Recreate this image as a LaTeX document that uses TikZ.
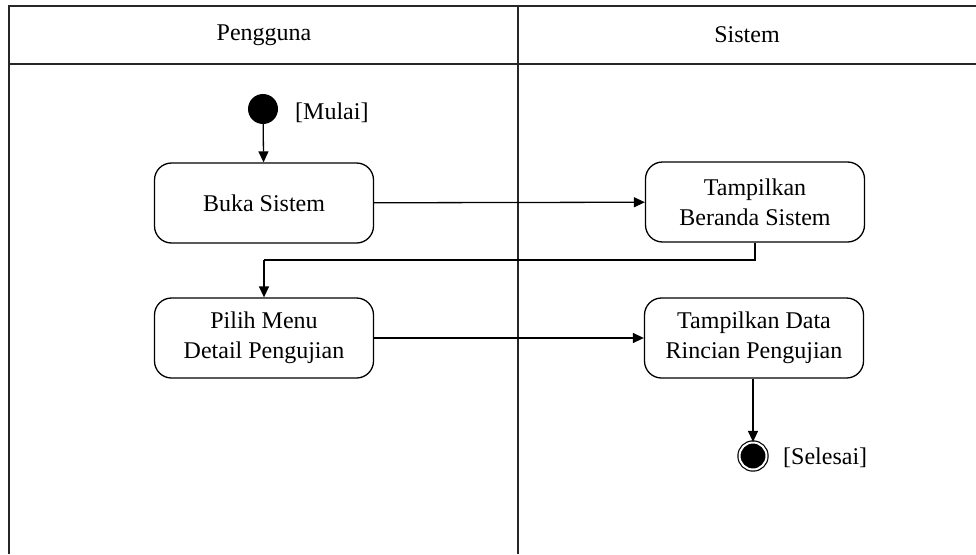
\documentclass[tikz,border=0pt]{standalone}
\usepackage{fontspec}
\setmainfont{LiberationSerif}[Extension=.ttf,UprightFont=*-Regular,BoldFont=*-Bold]
\newfontfamily\timesfont{LiberationSerif}[Extension=.ttf,UprightFont=*-Regular]
\usetikzlibrary{arrows.meta}
\begin{document}
\begin{tikzpicture}[x=1pt,y=-1pt,
  lane/.style={line width=1.6pt,draw=black!85},
  act/.style={draw,line width=1.3pt,rounded corners=17pt,minimum width=219pt,minimum height=80pt,
    align=center,font=\timesfont\fontsize{24}{30}\selectfont,inner sep=0pt},
  flow/.style={line width=1.3pt,-{Triangle[length=11pt,width=10pt]}},
  lbl/.style={font=\timesfont\fontsize{24}{28}\selectfont,inner sep=0pt},
  startnode/.style={circle,fill=black,minimum size=30pt,inner sep=0pt},
  endnode/.style={circle,draw,line width=1.2pt,fill=black,double=white,double distance=2pt,minimum size=27pt,inner sep=0pt}]
\useasboundingbox (0,0) rectangle (976,554);
\fill[white] (0,0) rectangle (976,554);
% swimlane frame
\draw[lane] (9,554) -- (9,6) -- (976,6);
\draw[lane] (9,64) -- (976,64);
\draw[lane] (518,6) -- (518,554);
\node[lbl] (h1) at (264,35) {Pengguna};
\node[lbl] (h2) at (747,35) {Sistem};
% activities
\node[startnode] (start) at (263,109) {};
\node[lbl,anchor=west] (mulai) at (295,113) {[Mulai]};
\node[act] (buka) at (264,203) {Buka Sistem};
\node[act] (beranda) at (755,202) {Tampilkan\\Beranda Sistem};
\node[act] (pilih) at (264,338) {Pilih Menu\\Detail Pengujian};
\node[act] (rincian) at (754,338) {Tampilkan Data\\Rincian Pengujian};
\node[endnode] (end) at (753,456) {};
\node[lbl,anchor=west] (selesai) at (783,458) {[Selesai]};
% control flow
\coordinate (c1) at (755,260);
\coordinate (c2) at (264,260);
\draw[flow] (start) -- (buka);
\draw[flow] (buka) -- (beranda);
\draw[line width=1.3pt] (beranda.south -| c1) -- (c1) -- (c2);
\draw[flow] (c2) -- (pilih.north);
\draw[flow] (pilih) -- (rincian);
\draw[flow] (rincian.south -| end) -- (end);
\end{tikzpicture}
\end{document}
